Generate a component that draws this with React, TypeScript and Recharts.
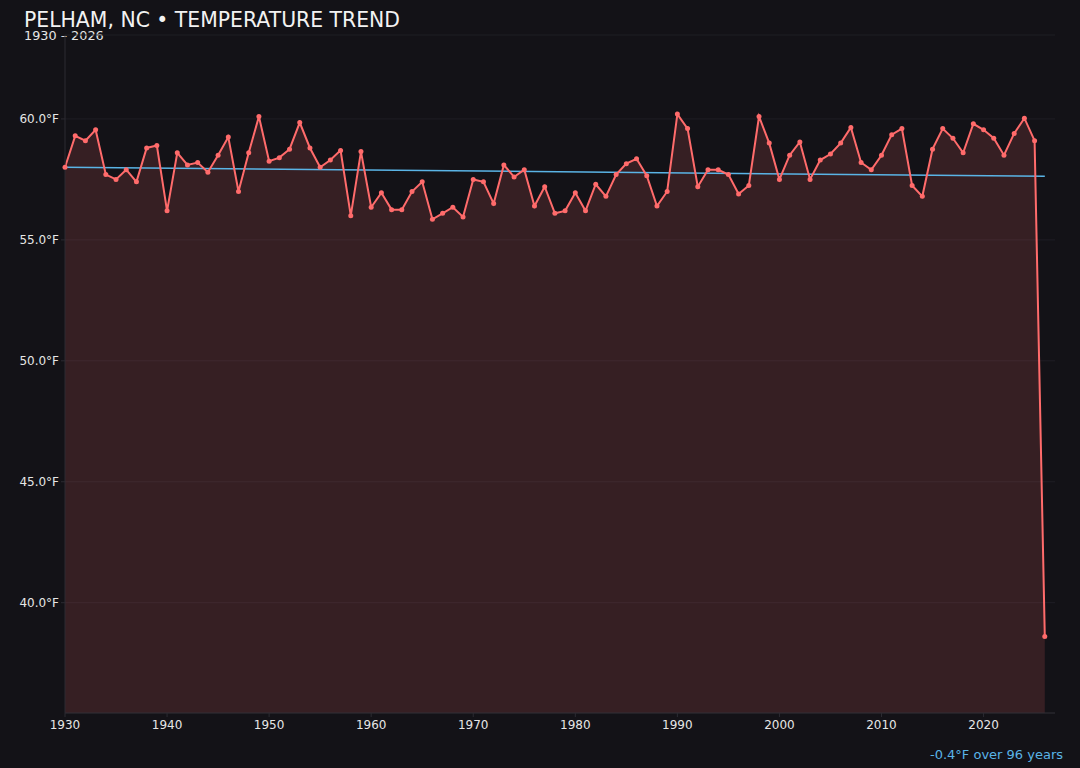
import { ComposedChart, Area, Line, XAxis, YAxis, CartesianGrid } from "recharts";

const years: Array<number> = [];
for (let y = 1930; y <= 2026; y++) years.push(y);

// annual mean temperature, °F
const temps: Array<number> = [
  58.0, 59.3, 59.1, 59.55, 57.7, 57.5, 57.9, 57.4, 58.8, 58.9,
  56.2, 58.6, 58.1, 58.2, 57.8, 58.5, 59.25, 57.0, 58.6, 60.1,
  58.25, 58.4, 58.75, 59.85, 58.8, 58.0, 58.3, 58.7, 56.0, 58.65,
  56.35, 56.95, 56.25, 56.25, 57.0, 57.4, 55.85, 56.1, 56.35, 55.95,
  57.5, 57.4, 56.5, 58.1, 57.6, 57.9, 56.4, 57.2, 56.1, 56.2,
  56.95, 56.2, 57.3, 56.8, 57.7, 58.15, 58.35, 57.65, 56.4, 57.0,
  60.2, 59.6, 57.2, 57.9, 57.9, 57.7, 56.9, 57.25, 60.1, 59.0,
  57.5, 58.5, 59.05, 57.5, 58.3, 58.55, 59.0, 59.65, 58.2, 57.9,
  58.5, 59.35, 59.6, 57.25, 56.8, 58.75, 59.6, 59.2, 58.6, 59.8,
  59.55, 59.2, 58.5, 59.4, 60.03, 59.1, 38.6,
];

// trend line endpoints (1930, 2026)
const trendEnds: Array<number> = [58.0, 57.63];

const xTicks = [1930, 1940, 1950, 1960, 1970, 1980, 1990, 2000, 2010, 2020];
const yTicks = [40, 45, 50, 55, 60];

const data = years.map((year, i) => ({
  year,
  temp: temps[i],
  trend: i === 0 ? trendEnds[0] : i === years.length - 1 ? trendEnds[1] : null,
}));

const BG = "#131217";
const RED = "#ff6b6b";
const BLUE = "#5ab4e6";
const TEXT = "#e6e6e6";
const FONT = "'DejaVu Sans', sans-serif";

const App = () => {
  return (
    <div
      style={{
        position: "absolute",
        top: 0,
        left: 0,
        width: 1080,
        height: 768,
        background: BG,
        fontFamily: FONT,
        overflow: "hidden",
      }}
    >
      <div
        style={{
          position: "absolute",
          left: 24,
          top: 8,
          fontSize: 20.4,
          color: "#f2f2f2",
          lineHeight: "24px",
        }}
      >
        PELHAM, NC • TEMPERATURE TREND
      </div>
      <div
        style={{
          position: "absolute",
          left: 24,
          top: 28,
          fontSize: 12.8,
          color: TEXT,
          lineHeight: "15px",
        }}
      >
        1930 – 2026
      </div>
      <ComposedChart
        width={1080}
        height={768}
        data={data}
        margin={{ top: 35, right: 25, left: 0, bottom: 25 }}
      >
        <CartesianGrid vertical={false} stroke="#1f1e25" strokeWidth={1} />
        <XAxis
          dataKey="year"
          type="number"
          domain={[1930, 2027]}
          ticks={xTicks}
          height={30}
          stroke="#2c2b32"
          tickLine={{ stroke: "#2c2b32" }}
          tickSize={4}
          tickMargin={3}
          tick={{ fill: TEXT, fontSize: 12, fontFamily: FONT }}
        />
        <YAxis
          type="number"
          domain={[35.44, 63.47]}
          ticks={yTicks}
          width={65}
          stroke="#2c2b32"
          tickLine={{ stroke: "#2c2b32" }}
          tickSize={4}
          tickFormatter={(v: number) => v.toFixed(1) + "°F"}
          tick={{ fill: TEXT, fontSize: 12, fontFamily: FONT }}
          allowDataOverflow
        />
        <Area
          type="linear"
          dataKey="temp"
          stroke="none"
          fill={RED}
          fillOpacity={0.15}
          activeDot={false}
          isAnimationActive={false}
        />
        <Line
          type="linear"
          dataKey="trend"
          stroke={BLUE}
          strokeWidth={1.5}
          dot={false}
          activeDot={false}
          connectNulls
          isAnimationActive={false}
        />
        <Line
          type="linear"
          dataKey="temp"
          stroke={RED}
          strokeWidth={2}
          dot={{ r: 2.5, fill: RED, stroke: RED, strokeWidth: 0 }}
          activeDot={false}
          isAnimationActive={false}
        />
      </ComposedChart>
      <div
        style={{
          position: "absolute",
          right: 17,
          top: 746,
          fontSize: 13,
          color: BLUE,
          lineHeight: "18px",
        }}
      >
        -0.4°F over 96 years
      </div>
    </div>
  );
};

export default App;
